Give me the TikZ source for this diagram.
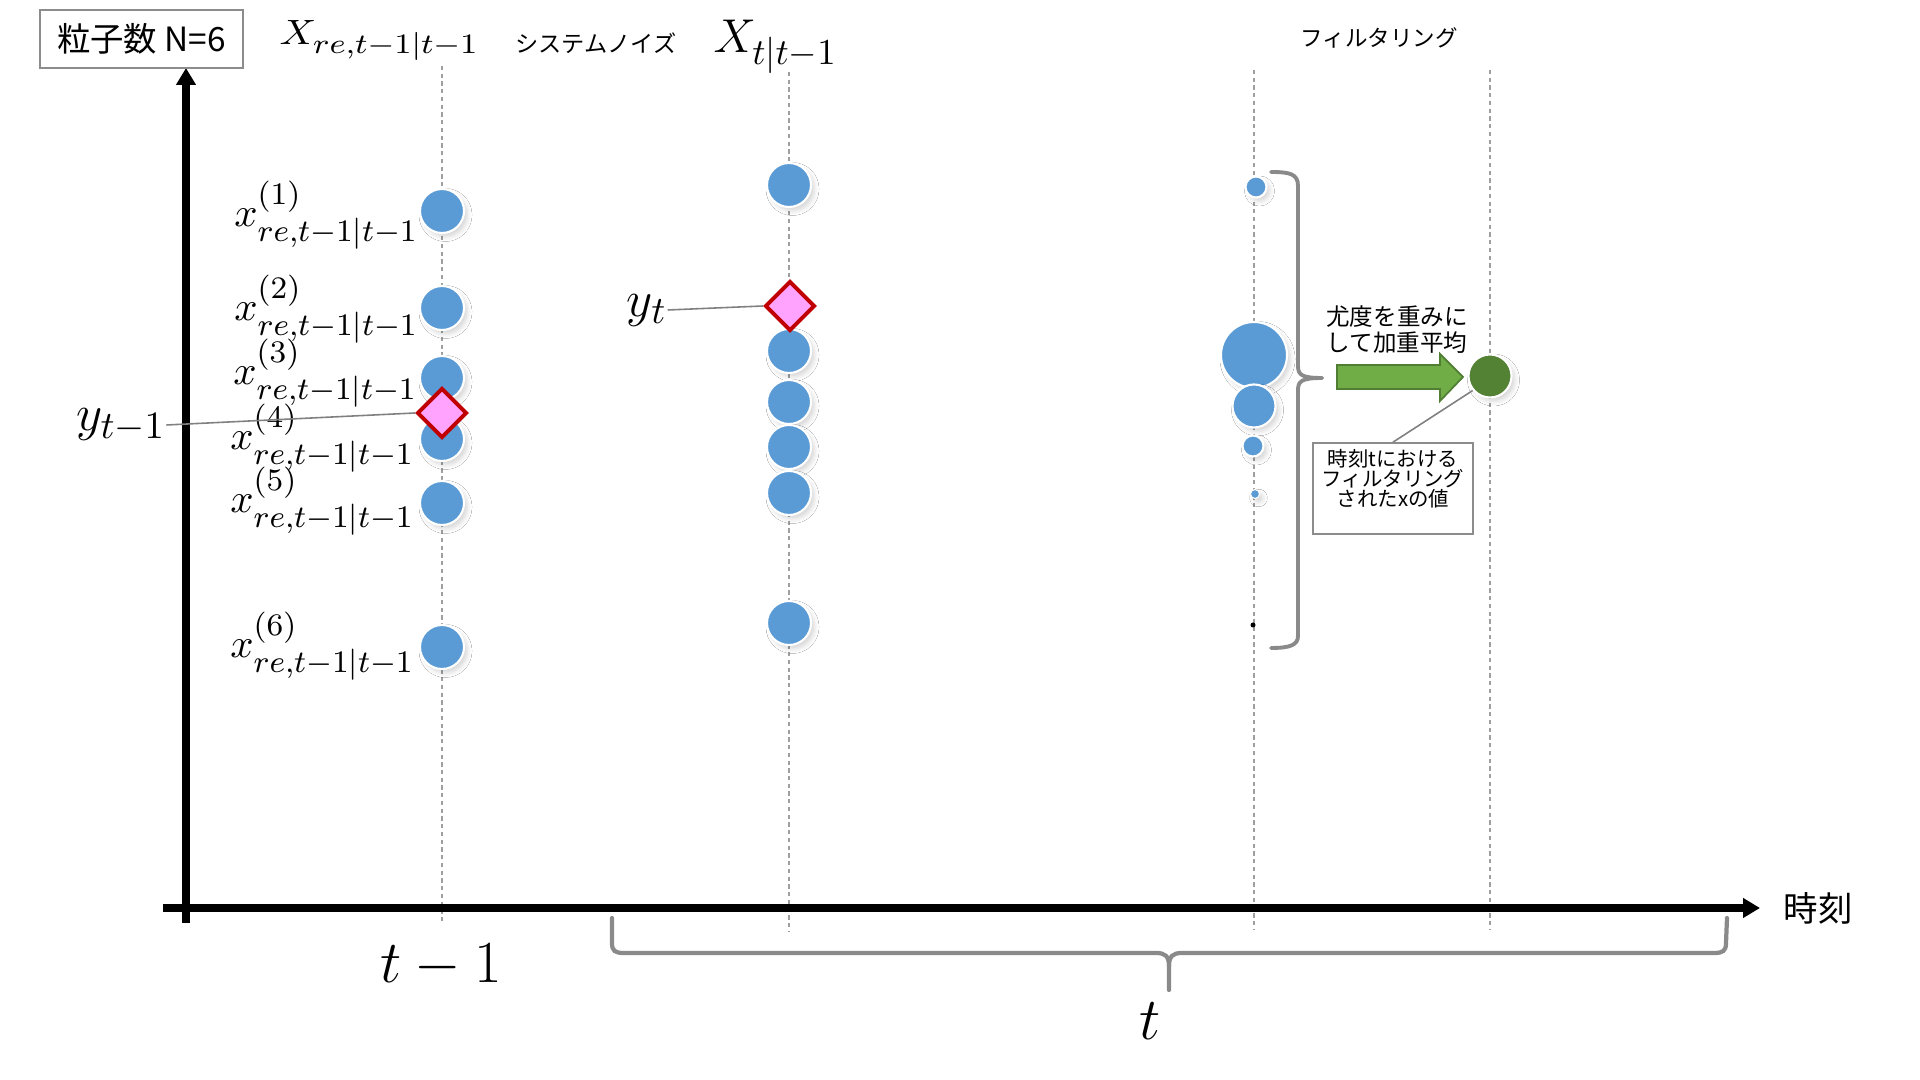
\RequirePackage{fix-cm}
\documentclass[tikz,border=0pt]{standalone}
\usepackage{fontspec}
\newfontfamily\jp{Noto Sans CJK JP}
\usetikzlibrary{shapes.geometric,shadows.blur,arrows.meta}
\DeclareMathSizes{10}{10}{8}{6}
\DeclareMathSizes{11.6}{11.6}{8.9}{7}
\DeclareMathSizes{13.5}{13.5}{10.4}{8}
\DeclareMathSizes{14.5}{14.5}{11}{8.5}
\DeclareMathSizes{17}{17}{13}{10}
\definecolor{pblue}{HTML}{5B9BD5}
\definecolor{obspink}{HTML}{FFA3FF}
\definecolor{obsred}{HTML}{C00000}
\definecolor{agreen}{HTML}{70AD47}
\definecolor{agreenline}{HTML}{507E32}
\definecolor{dgreen}{HTML}{548235}
\definecolor{bracegray}{HTML}{8A8A8A}
\begin{document}
\begin{tikzpicture}[x=0.01cm,y=-0.01cm,
  particle/.style={circle, fill=pblue, draw=white, line width=0.6pt, inner sep=0pt,
    blur shadow={shadow xshift=0.035cm, shadow yshift=-0.04cm, shadow blur radius=0.045cm, shadow opacity=16}},
  obs/.style={diamond, aspect=1, fill=obspink, draw=obsred, line width=1.1pt, inner sep=0pt, minimum size=0.50cm},
  guide/.style={draw=gray!75, line width=0.35pt, dash pattern=on 1.2pt off 1pt},
  axisline/.style={line width=2pt, -{Triangle[length=0.17cm,width=0.19cm]}},
  lbl/.style={font=\fontsize{11.6}{13}\selectfont, inner sep=0pt},
  ylbl/.style={font=\fontsize{14.5}{16}\selectfont, inner sep=0pt},
  pointer/.style={draw=gray, line width=0.45pt},
  bracestyle/.style={draw=bracegray, line width=1.1pt, line cap=round},
  jpsmall/.style={font=\jp\fontsize{6.6}{7.4}\selectfont, inner sep=0pt},
]
\fill[white] (0,0) rectangle (1920,1080);
\useasboundingbox (0,0) rectangle (1920,1080);

% dashed time guides
\coordinate (g1t) at (442,66);  \coordinate (g1b) at (442,924);
\coordinate (g2t) at (789,72);  \coordinate (g2b) at (789,932);
\coordinate (g3t) at (1254,70); \coordinate (g3b) at (1254,930);
\coordinate (g4t) at (1490,70); \coordinate (g4b) at (1490,930);
\draw[guide] (g1t) -- (g1b);
\draw[guide] (g2t) -- (g2b);
\draw[guide] (g3t) -- (g3b);
\draw[guide] (g4t) -- (g4b);

% axes
\coordinate (vaB) at (186,923); \coordinate (vaT) at (186,68);
\coordinate (haL) at (163,908); \coordinate (haR) at (1760,908);
\draw[axisline] (vaB) -- (vaT);
\draw[axisline] (haL) -- (haR);
\node[font=\jp\fontsize{9.8}{11}\selectfont, inner sep=0pt] (jikoku) at (1818,908) {時刻};

% header
\node[draw=gray!90, line width=0.5pt, minimum width=2.03cm, minimum height=0.58cm, inner sep=0pt,
      font=\jp\fontsize{9.5}{11}\selectfont] (nbox) at (141.5,39) {粒子数 N=6};
\node[anchor=base west, inner sep=0pt] (xre) at (279,45)
   {\fontsize{10}{12}\selectfont\scalebox{1.15}[1]{$X_{re,t-1|t-1}$}};
\node[jpsmall] (noise) at (596,43) {システムノイズ};
\node[anchor=base west, inner sep=0pt, font=\fontsize{13.5}{15}\selectfont] (xt) at (713,53) {$X_{t|t-1}$};
\node[jpsmall, font=\jp\fontsize{6.4}{7}\selectfont] (filt) at (1379,38) {フィルタリング};

% column t-1 particles
\node[particle, minimum size=0.44cm] (a1) at (442,211) {};
\node[particle, minimum size=0.44cm] (a2) at (442,308) {};
\node[particle, minimum size=0.44cm] (a3) at (442,378) {};
\node[particle, minimum size=0.44cm] (a4) at (442,439) {};
\node[particle, minimum size=0.44cm] (a5) at (442,503) {};
\node[particle, minimum size=0.44cm] (a6) at (442,647) {};
\node[lbl, anchor=east] (l1) at (419,215) {$x^{(1)}_{re,t-1|t-1}$};
\node[lbl, anchor=east] (l2) at (419,309) {$x^{(2)}_{re,t-1|t-1}$};
\node[lbl, anchor=east] (l3) at (418,373) {$x^{(3)}_{re,t-1|t-1}$};
\node[lbl, anchor=east] (l4) at (415,438) {$x^{(4)}_{re,t-1|t-1}$};
\node[lbl, anchor=east] (l5) at (415,501) {$x^{(5)}_{re,t-1|t-1}$};
\node[lbl, anchor=east] (l6) at (415,646) {$x^{(6)}_{re,t-1|t-1}$};
\node[obs] (d1) at (442,413) {};
\node[ylbl] (ytm1) at (121,425) {$y_{t-1}$};
\draw[pointer] (ytm1.east) -- (d1.west);

% column t (prediction)
\node[particle, minimum size=0.44cm] (b1) at (789,185) {};
\node[particle, minimum size=0.44cm] (b2) at (789,351) {};
\node[particle, minimum size=0.44cm] (b3) at (789,402) {};
\node[particle, minimum size=0.44cm] (b4) at (789,447) {};
\node[particle, minimum size=0.44cm] (b5) at (789,493) {};
\node[particle, minimum size=0.44cm] (b6) at (789,623) {};
\node[obs] (d2) at (790,306) {};
\node[ylbl] (yt) at (647,310) {$y_t$};
\draw[pointer] (yt.east) -- (d2.west);

% column filtering (weighted)
\node[particle, minimum size=0.21cm] (c1) at (1256,187) {};
\node[particle, minimum size=0.66cm] (c2) at (1254,355) {};
\node[particle, minimum size=0.43cm] (c3) at (1254,406) {};
\node[particle, minimum size=0.21cm] (c4) at (1253,446) {};
\node[particle, minimum size=0.09cm, line width=0.3pt] (c5) at (1255,494) {};
\node[circle, fill=black, inner sep=0pt, minimum size=0.05cm] (c6) at (1253,625) {};

% right brace
\draw[bracestyle] (1271,172) .. controls (1290,172) and (1298,174) .. (1298,186) -- (1298,366)
   .. controls (1298,375) and (1302,378) .. (1322,378);
\draw[bracestyle] (1322,378) .. controls (1302,378) and (1298,381) .. (1298,390) -- (1298,636)
   .. controls (1298,645) and (1290,648) .. (1271,648);

% weighted average arrow
\node[font=\jp\fontsize{6.7}{7.4}\selectfont, align=center, inner sep=0pt] (wlbl) at (1397,330)
   {尤度を重みに\\して加重平均};
\draw[fill=agreen, draw=agreenline, line width=0.5pt]
   (1337,365) -- (1440,365) -- (1440,354) -- (1463,377) -- (1440,401) -- (1440,389) -- (1337,389) -- cycle;
\node[particle, fill=dgreen, minimum size=0.43cm] (g) at (1490,376) {};

% note box
\node[draw=gray!90, line width=0.45pt, minimum width=1.60cm, minimum height=0.91cm, inner sep=0pt] (note) at (1393,488.5) {};
\node[anchor=north, font=\jp\fontsize{5.8}{5.7}\selectfont, align=center, inner sep=0pt] (notetext) at (1393,449)
   {時刻tにおける\\フィルタリング\\されたxの値};
\draw[pointer] (g.220) -- (note.north);

% bottom brace
\draw[bracestyle, line width=1.2pt] (612,918) -- (612,943) .. controls (612,951) and (615,953) .. (624,953)
   -- (1156,953) .. controls (1165,953) and (1169,956) .. (1169,966) -- (1169,990);
\draw[bracestyle, line width=1.2pt] (1169,966) .. controls (1169,956) and (1173,953) .. (1182,953)
   -- (1714,953) .. controls (1723,953) and (1726,951) .. (1726,943) -- (1727,918);

% time labels
\node[anchor=base, inner sep=0pt, font=\fontsize{17}{19}\selectfont] (tm1) at (441,983) {$t-1$};
\node[anchor=base, inner sep=0pt, font=\fontsize{17}{19}\selectfont] (tlab) at (1150,1040) {$t$};
\end{tikzpicture}
\end{document}
